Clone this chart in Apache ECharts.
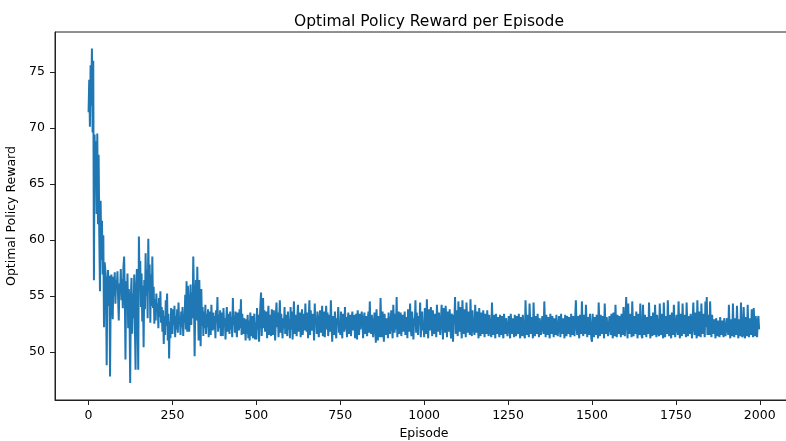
<!DOCTYPE html>
<html>
<head>
<meta charset="utf-8">
<title>Optimal Policy Reward per Episode</title>
<script src="https://cdn.jsdelivr.net/npm/echarts@6/dist/echarts.min.js"></script>
<style>
  html, body { margin: 0; padding: 0; background: #fff; }
  #chart { width: 786px; height: 441px; }
</style>
</head>
<body>
<div id="chart"></div>
<script>
// one reading every 2 episodes, starting at episode 0 (one row = 50 episodes)
const episodeStep = 2;
const rewards = [
  71.4, 74.3, 70.1, 75.6, 72.0, 77.1, 69.6, 76.0, 56.4, 69.4, 65.2, 68.8, 62.3, 69.5, 61.4, 67.6, 60.3, 55.4, 63.5, 58.2, 61.7, 56.9, 60.4, 52.2, 58.0,
  57.3, 55.6, 48.8, 56.2, 57.3, 54.1, 56.8, 47.8, 55.2, 56.9, 54.5, 52.9, 56.7, 55.0, 57.1, 54.3, 56.4, 55.6, 57.2, 54.8, 52.8, 56.1, 55.3, 57.4, 54.6,
  56.5, 53.9, 57.6, 58.5, 55.1, 49.3, 56.3, 54.2, 57.0, 52.1, 55.6, 53.4, 47.2, 54.8, 56.6, 51.6, 55.2, 53.0, 56.9, 52.4, 48.4, 55.7, 57.4, 53.6, 48.4,
  60.3, 56.2, 58.1, 54.0, 57.0, 52.7, 55.9, 50.4, 56.4, 53.8, 58.8, 55.0, 57.3, 53.0, 60.1, 55.4, 57.8, 52.6, 56.9, 54.1, 58.5, 53.9, 55.8, 52.5, 54.7,
  52.8, 55.2, 53.6, 54.3, 52.1, 54.8, 53.1, 55.4, 52.6, 54.0, 51.8, 53.7, 50.7, 53.2, 51.5, 54.6, 52.3, 55.2, 51.0, 53.4, 49.4, 52.7, 51.2, 53.9, 52.0,
  51.6, 53.8, 52.4, 54.1, 51.3, 53.2, 52.0, 53.8, 51.7, 54.4, 52.5, 53.0, 51.5, 53.6, 52.2, 54.0, 51.4, 53.3, 52.6, 55.1, 52.0, 56.3, 51.8, 55.9, 52.9,
  51.8, 54.6, 56.0, 52.4, 55.3, 53.0, 58.5, 55.1, 49.6, 54.2, 56.4, 52.8, 57.6, 54.0, 51.0, 56.4, 53.2, 50.5, 55.6, 52.3, 54.0, 51.4, 53.6, 52.1, 54.2,
  51.6, 53.4, 52.2, 53.8, 51.3, 52.9, 53.6, 51.5, 54.2, 52.4, 51.9, 53.5, 52.0, 53.2, 51.2, 53.7, 52.6, 54.9, 51.8, 53.3, 52.1, 53.7, 51.4, 52.8, 53.5,
  51.4, 53.9, 52.3, 53.0, 51.1, 52.7, 54.0, 51.8, 53.4, 52.5, 51.6, 53.6, 52.0, 53.1, 51.3, 54.8, 52.4, 53.2, 51.7, 53.6, 52.2, 51.3, 53.5, 52.6, 51.9,
  53.8, 52.1, 54.7, 51.5, 53.4, 52.3, 51.6, 53.0, 52.4, 51.0, 52.9, 51.6, 53.3, 51.2, 52.8, 51.0, 53.5, 52.2, 51.4, 53.2, 51.2, 52.7, 53.4, 51.1, 52.6,
  51.1, 53.9, 52.0, 53.3, 50.9, 52.6, 54.2, 55.3, 51.4, 53.6, 54.8, 52.1, 53.7, 51.8, 52.9, 53.6, 51.2, 52.7, 54.1, 51.5, 53.3, 52.2, 51.4, 53.8, 52.5,
  51.5, 53.7, 52.3, 51.0, 53.2, 54.4, 52.2, 53.5, 51.3, 52.8, 54.6, 51.7, 53.4, 52.4, 51.2, 53.0, 52.1, 54.0, 51.6, 53.3, 52.6, 51.4, 53.6, 52.0, 52.9,
  51.2, 54.0, 52.0, 53.6, 51.1, 52.7, 54.5, 51.6, 53.3, 52.4, 51.4, 53.1, 54.2, 51.8, 52.9, 53.5, 51.3, 52.6, 53.8, 51.5, 52.3, 53.4, 51.9, 54.3, 52.2,
  51.8, 53.5, 51.2, 52.8, 54.6, 51.5, 53.7, 52.1, 51.9, 53.4, 52.6, 51.0, 54.3, 52.4, 53.0, 51.6, 53.6, 52.2, 51.3, 52.9, 53.7, 51.7, 52.5, 54.1, 51.4,
  51.6, 53.6, 51.3, 52.9, 54.1, 52.0, 53.5, 51.4, 52.7, 53.3, 51.8, 54.6, 52.3, 50.9, 53.2, 52.4, 51.5, 53.6, 52.1, 51.2, 53.0, 52.6, 54.0, 51.7, 52.8,
  51.5, 53.6, 52.2, 51.2, 53.4, 52.5, 51.8, 54.0, 52.0, 53.1, 51.3, 52.7, 53.5, 51.6, 52.3, 53.3, 51.4, 52.9, 53.6, 51.9, 52.4, 53.3, 51.2, 52.8, 53.4,
  51.1, 53.7, 52.4, 51.5, 53.4, 52.0, 51.9, 53.6, 52.6, 51.2, 52.8, 53.5, 51.6, 52.3, 53.2, 51.4, 52.9, 53.6, 51.7, 54.5, 52.1, 51.6, 53.3, 52.5, 51.3,
  51.4, 53.5, 52.2, 50.8, 53.8, 52.4, 51.0, 53.2, 52.0, 51.3, 54.8, 52.6, 51.3, 53.6, 52.3, 50.9, 53.4, 52.1, 51.5, 53.0, 52.7, 51.2, 53.5, 52.4, 51.6,
  51.5, 53.7, 52.3, 51.2, 54.2, 52.6, 51.7, 53.4, 52.0, 54.9, 51.3, 52.8, 53.6, 51.6, 52.5, 53.5, 51.4, 52.9, 53.3, 51.8, 52.2, 53.6, 51.5, 52.7, 53.1,
  51.2, 53.8, 52.5, 51.8, 54.3, 52.1, 51.4, 53.6, 52.7, 51.1, 53.0, 52.3, 54.6, 51.7, 53.5, 52.2, 51.5, 53.2, 52.6, 54.4, 51.3, 52.9, 53.6, 51.9, 52.4,
  51.3, 53.9, 52.4, 51.6, 54.7, 52.2, 51.2, 53.8, 52.7, 51.9, 54.0, 52.5, 51.4, 53.7, 52.3, 51.6, 53.4, 52.8, 51.3, 54.2, 52.6, 51.8, 53.5, 52.2, 51.5,
  51.5, 54.2, 52.8, 51.1, 53.9, 52.4, 51.7, 54.1, 52.9, 51.3, 53.6, 52.5, 51.8, 53.8, 52.3, 51.2, 53.4, 52.7, 50.9, 53.3, 52.6, 54.9, 51.6, 53.7, 52.4,
  51.4, 54.5, 52.6, 51.8, 54.0, 52.3, 51.2, 54.6, 52.8, 51.6, 53.8, 52.4, 51.3, 54.4, 52.9, 51.7, 53.6, 52.2, 51.5, 54.7, 52.6, 51.4, 53.7, 52.3, 51.9,
  51.5, 54.2, 52.7, 51.7, 53.6, 52.4, 51.2, 53.9, 52.6, 51.4, 53.5, 52.1, 51.6, 53.7, 52.5, 51.3, 53.4, 52.2, 51.6, 53.7, 52.0, 51.4, 53.3, 52.5, 51.7,
  51.3, 54.4, 52.3, 51.5, 53.3, 52.1, 51.2, 53.4, 52.5, 51.6, 53.1, 52.0, 51.3, 53.3, 52.4, 51.5, 53.2, 51.9, 51.2, 53.4, 52.3, 51.6, 53.0, 52.2, 51.4,
  51.5, 53.2, 52.1, 51.2, 53.4, 52.4, 51.6, 53.0, 52.0, 51.3, 53.3, 52.3, 51.4, 53.2, 52.1, 51.6, 53.4, 52.2, 51.2, 53.1, 52.5, 51.4, 53.3, 52.0, 51.5,
  51.2, 54.6, 52.3, 51.5, 53.3, 52.1, 51.3, 54.3, 52.6, 51.6, 53.1, 52.2, 51.2, 54.4, 52.4, 51.4, 53.2, 52.0, 51.6, 53.4, 52.3, 51.3, 53.0, 52.5, 51.5,
  51.4, 53.2, 52.1, 51.6, 54.5, 52.4, 51.3, 53.3, 52.2, 51.5, 53.1, 52.0, 51.2, 53.4, 52.5, 51.6, 53.2, 52.1, 51.3, 53.0, 52.3, 51.5, 53.3, 52.0, 51.4,
  51.5, 53.2, 52.2, 51.3, 53.4, 52.0, 51.6, 53.0, 52.4, 51.2, 53.3, 52.1, 51.4, 53.2, 52.5, 51.6, 53.1, 52.0, 51.3, 53.4, 52.2, 51.5, 53.2, 52.3, 51.4,
  51.3, 54.6, 52.4, 51.5, 53.2, 52.0, 51.2, 53.3, 52.4, 51.6, 54.5, 52.2, 51.4, 53.3, 52.1, 51.6, 54.2, 52.5, 51.3, 53.1, 52.0, 51.5, 53.4, 52.3, 51.2,
  50.9, 53.4, 52.2, 51.3, 53.1, 52.4, 51.5, 53.3, 52.0, 51.2, 54.4, 52.5, 51.4, 53.3, 52.1, 51.6, 53.2, 52.3, 51.2, 54.3, 52.4, 51.6, 53.1, 52.0, 51.4,
  51.3, 53.2, 52.3, 51.5, 53.4, 52.1, 51.2, 53.5, 52.4, 51.4, 54.2, 52.2, 51.3, 53.3, 52.0, 51.6, 53.2, 52.5, 51.3, 53.4, 52.1, 51.5, 54.0, 52.3, 51.4,
  51.5, 54.9, 52.4, 51.2, 54.3, 52.2, 51.6, 53.4, 52.3, 51.3, 54.5, 52.5, 51.4, 53.2, 52.1, 51.6, 53.6, 52.0, 51.2, 53.4, 52.4, 51.5, 54.3, 52.2, 51.4,
  51.2, 54.2, 52.3, 51.5, 53.3, 52.1, 51.3, 53.1, 52.4, 51.6, 54.4, 52.2, 51.2, 53.2, 52.0, 51.4, 53.5, 52.3, 51.5, 54.2, 52.1, 51.3, 53.3, 52.4, 51.6,
  51.4, 54.3, 52.2, 51.5, 53.4, 52.0, 51.2, 54.4, 52.5, 51.3, 53.2, 52.1, 51.6, 54.6, 52.3, 51.4, 53.3, 52.0, 51.2, 53.5, 52.4, 51.5, 54.2, 52.2, 51.3,
  51.3, 53.3, 52.1, 51.5, 54.5, 52.3, 51.2, 53.4, 52.0, 51.4, 54.3, 52.4, 51.6, 53.3, 52.2, 51.3, 54.4, 52.5, 51.4, 53.2, 52.1, 51.6, 53.4, 52.3, 51.2,
  51.3, 54.4, 52.2, 51.5, 53.5, 52.0, 51.2, 54.6, 52.4, 51.4, 53.6, 52.3, 51.3, 54.3, 52.5, 51.6, 53.4, 52.1, 51.3, 54.5, 52.2, 54.9, 51.5, 53.3, 52.4,
  51.5, 54.5, 52.3, 51.3, 53.3, 52.0, 51.6, 52.9, 52.2, 51.2, 53.0, 52.1, 51.4, 52.8, 52.0, 51.3, 53.1, 52.2, 51.5, 52.8, 51.9, 51.3, 53.0, 52.1, 51.4,
  51.3, 53.0, 52.0, 51.5, 54.2, 52.1, 51.2, 52.9, 52.2, 51.4, 54.3, 52.0, 51.3, 53.0, 52.1, 51.5, 54.1, 52.3, 51.2, 52.9, 52.0, 51.4, 54.4, 52.2, 51.3,
  51.5, 54.0, 52.1, 51.2, 53.1, 52.3, 51.4, 54.2, 52.0, 51.3, 53.0, 52.2, 51.5, 53.8, 52.1, 51.3, 53.9, 52.4, 51.4, 53.2, 52.0, 51.3, 52.8, 53.2, 52.0
];
const xTicks = [0, 250, 500, 750, 1000, 1250, 1500, 1750, 2000];
const yTicks = [50, 55, 60, 65, 70, 75];

const points = rewards.map((r, i) => [i * episodeStep, r]);

const chart = echarts.init(document.getElementById('chart'));
const font = 'DejaVu Sans';
chart.setOption({
  animation: false,
  backgroundColor: '#fff',
  title: {
    text: 'Optimal Policy Reward per Episode',
    left: 424,
    top: 9,
    textAlign: 'center',
    textStyle: { fontFamily: font, fontSize: 15.5, fontWeight: 'normal', color: '#000' }
  },
  grid: {
    left: 55, top: 32, right: -7, bottom: 41,
    show: true, borderColor: '#222', borderWidth: 1,
    containLabel: false,
    outerBoundsMode: 'none'
  },
  xAxis: {
    type: 'value',
    min: -100, max: 2099,
    name: 'Episode',
    nameLocation: 'middle',
    nameGap: 27,
    nameTextStyle: { fontFamily: font, fontSize: 12.5, color: '#000' },
    splitLine: { show: false },
    axisLine: { show: true, onZero: false, lineStyle: { color: '#222', width: 1 } },
    axisTick: { show: true, customValues: xTicks, length: 5, lineStyle: { color: '#222' } },
    axisLabel: { customValues: xTicks, margin: 9, fontFamily: font, fontSize: 12.5, color: '#000',
      formatter: v => String(v) }
  },
  yAxis: {
    type: 'value',
    min: 45.69, max: 78.57,
    name: 'Optimal Policy Reward',
    nameLocation: 'middle',
    nameGap: 33,
    nameTextStyle: { fontFamily: font, fontSize: 12.5, color: '#000' },
    splitLine: { show: false },
    axisLine: { show: true, onZero: false, lineStyle: { color: '#222', width: 1 } },
    axisTick: { show: true, customValues: yTicks, length: 5, lineStyle: { color: '#222' } },
    axisLabel: { customValues: yTicks, margin: 10, fontFamily: font, fontSize: 12.5, color: '#000',
      formatter: v => String(v) }
  },
  series: [{
    type: 'line',
    data: points,
    showSymbol: false,
    symbol: 'none',
    lineStyle: { color: '#1f77b4', width: 2 },
    itemStyle: { color: '#1f77b4' }
  }]
});
</script>
</body>
</html>
